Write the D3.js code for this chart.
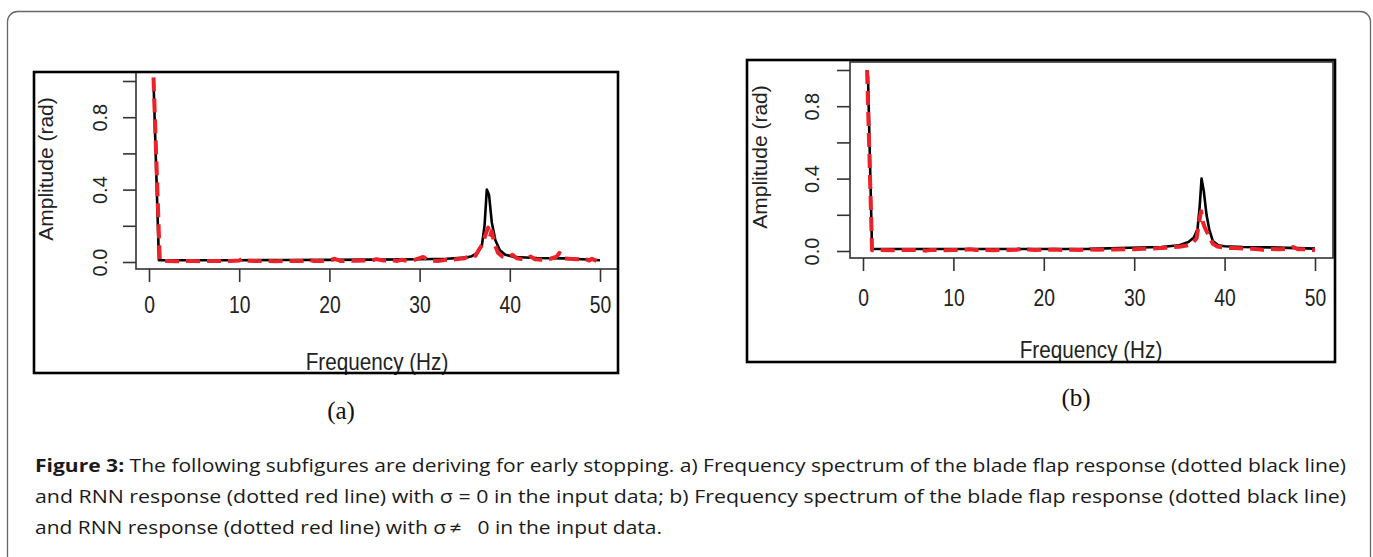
<!DOCTYPE html>
<html><head><meta charset="utf-8">
<script src="https://cdn.jsdelivr.net/npm/d3@7"></script>
<style>
html,body{margin:0;padding:0;background:#fff;}
svg{display:block;}
</style></head>
<body>
<svg id="c" width="1373" height="557"></svg>
<script>
// ---------- data ----------
const xTicks = [0, 10, 20, 30, 40, 50];
const yTicks = [0, 0.2, 0.4, 0.6, 0.8, 1.0];
const yTickLabels = ["0.0", "", "0.4", "", "0.8", ""];
const xTitle = "Frequency (Hz)";
const yTitle = "Amplitude (rad)";
const panelLabels = ["(a)", "(b)"];

// panel (a): blade flap response (black) and RNN response (red), sigma = 0
const flapA = [[0.5,1.0],[1.1,0.01],[5,0.01],[10,0.01],[15,0.011],[20,0.012],[25,0.013],[30,0.015],[33,0.018],[35,0.024],[35.8,0.032],[36.4,0.05],[36.9,0.09],[37.2,0.2],[37.45,0.4],[37.7,0.37],[38.0,0.22],[38.4,0.12],[38.9,0.065],[39.5,0.04],[40.5,0.028],[43,0.022],[46,0.02],[48,0.015],[50,0.01]];
const rnnA = [[0.5,1.02],[1.2,0.005],[2,0.005],[3,0.004],[4,0.006],[5,0.005],[6,0.004],[7,0.006],[8,0.005],[9,0.006],[10,0.008],[10.4,0.02],[10.8,0.007],[12,0.005],[13,0.006],[14,0.004],[15,0.006],[16,0.005],[17,0.006],[17.6,0.015],[18.2,0.006],[19,0.005],[20,0.008],[20.6,0.018],[21.2,0.006],[22,0.006],[23,0.007],[24,0.008],[24.5,0.005],[25.2,0.016],[26,0.008],[27,0.01],[27.5,0.006],[28,0.012],[28.6,0.007],[29.3,0.01],[30.4,0.028],[31,0.008],[32,0.006],[33,0.012],[34,0.015],[35,0.02],[35.7,0.04],[36.2,0.035],[36.6,0.07],[37.0,0.1],[37.3,0.15],[37.6,0.19],[37.8,0.14],[38.0,0.17],[38.3,0.1],[38.7,0.05],[39.2,0.03],[39.7,0.025],[40.3,0.04],[40.8,0.02],[41.5,0.015],[42.3,0.03],[42.8,0.015],[43.5,0.012],[44.5,0.018],[45.2,0.03],[45.5,0.05],[45.9,0.02],[46.5,0.018],[47.5,0.015],[48.2,0.02],[48.8,0.008],[49.1,0.018],[49.6,0.006]];

// panel (b): sigma != 0
const flapB = [[0.55,0.97],[1.0,0.011],[5,0.011],[10,0.011],[15,0.011],[20,0.011],[25,0.012],[29.5,0.018],[33,0.022],[35,0.032],[36,0.05],[36.6,0.075],[37.0,0.12],[37.25,0.25],[37.45,0.40],[37.7,0.33],[38.0,0.2],[38.3,0.12],[38.7,0.055],[39.3,0.032],[40,0.026],[42,0.022],[45,0.02],[48,0.016],[50,0.013]];
const rnnB = [[0.45,1.0],[1.0,0.004],[2,0.005],[3,0.004],[4,0.005],[5,0.005],[6,0.006],[7,0.002],[7.5,0.005],[8,0.006],[9,0.004],[10,0.005],[11,0.006],[11.8,0.01],[12.5,0.005],[13.5,0.006],[14.5,0.004],[15,0.006],[16,0.005],[17,0.007],[17.7,0.014],[18.3,0.008],[19,0.006],[20,0.007],[21,0.008],[22,0.006],[23,0.007],[24,0.006],[25,0.008],[26,0.007],[27,0.009],[28,0.008],[29,0.01],[30,0.01],[31,0.012],[32,0.013],[33,0.016],[34,0.02],[35,0.024],[35.8,0.03],[36.4,0.04],[36.9,0.07],[37.15,0.15],[37.4,0.22],[37.6,0.16],[37.8,0.13],[38.0,0.11],[38.3,0.08],[38.7,0.04],[39.2,0.025],[40,0.018],[41,0.016],[42,0.014],[43,0.012],[44,0.008],[44.5,0.005],[45,0.011],[46,0.01],[47,0.012],[47.6,0.022],[48.1,0.01],[49,0.009],[50,0.004]];

const captionLines = [
  ["Figure 3:", " The following subfigures are deriving for early stopping. a) Frequency spectrum of the blade flap response (dotted black line)"],
  ["", "and RNN response (dotted red line) with \u03c3 = 0 in the input data; b) Frequency spectrum of the blade flap response (dotted black line)"],
  ["", "and RNN response (dotted red line) with \u03c3\u2009\u2260\u2002 0 in the input data."]
];

// ---------- layout ----------
const svg = d3.select("#c");
svg.append("rect").attr("width",1373).attr("height",557).attr("fill","#fff");
svg.append("rect").attr("x",7.5).attr("y",11.5).attr("width",1363).attr("height",580)
  .attr("rx",10).attr("fill","none").attr("stroke","#666").attr("stroke-width",1.3);

const panels = [
  {frame:[34,72,618,373], box:[136,72,618,269], xr:[149,600], yr:[262,81], tickLen:13,
   xLabY:36, yLabX:36, xTitle:[377,362], yTitle:[46,169], label:[341,410], flap:flapA, rnn:rnnA, name:panelLabels[0]},
  {frame:[747,60,1335,362], box:[850,62,1333,258], xr:[863,1315], yr:[251,70], tickLen:13,
   xLabY:40, yLabX:38, xTitle:[1091,350], yTitle:[760,157], label:[1076,397], flap:flapB, rnn:rnnB, name:panelLabels[1]}
];

const font = "Liberation Sans, Arial, Helvetica, sans-serif";

panels.forEach(p => {
  const g = svg.append("g");
  const x = d3.scaleLinear().domain([0,50]).range(p.xr);
  const y = d3.scaleLinear().domain([0,1]).range(p.yr);
  const [bx0,by0,bx1,by1] = p.box;

  // plot box
  g.append("rect").attr("x",bx0).attr("y",by0).attr("width",bx1-bx0).attr("height",by1-by0)
    .attr("fill","none").attr("stroke","#333").attr("stroke-width",1.6);

  // x axis
  const xa = g.append("g").attr("transform",`translate(0,${by1})`)
    .call(d3.axisBottom(x).tickValues(xTicks).tickSize(p.tickLen).tickFormat(d3.format("d")));
  xa.select(".domain").remove();
  xa.selectAll(".tick line").attr("stroke","#333").attr("stroke-width",1.6);
  xa.selectAll(".tick text").attr("font-family",font).attr("font-size",23).attr("fill","#222")
    .attr("y",p.xLabY).attr("dy","0.36em").attr("transform","scale(0.84,1)");

  // y axis
  const ya = g.append("g").attr("transform",`translate(${bx0},0)`)
    .call(d3.axisLeft(y).tickValues(yTicks).tickSize(p.tickLen).tickFormat((d,i)=>yTickLabels[i]));
  ya.select(".domain").remove();
  ya.selectAll(".tick line").attr("stroke","#333").attr("stroke-width",1.6);
  ya.selectAll(".tick text").attr("font-family",font).attr("font-size",20).attr("fill","#222")
    .attr("transform","rotate(-90)").attr("text-anchor","middle")
    .attr("x",0).attr("y",-p.yLabX).attr("dy","0.35em");

  // titles
  g.append("text").attr("transform",`translate(${p.xTitle[0]},${p.xTitle[1]}) scale(0.9,1)`).attr("dy","0.36em")
    .attr("text-anchor","middle").attr("font-family",font).attr("font-size",23).attr("fill","#222").text(xTitle);
  g.append("text").attr("transform",`translate(${p.yTitle[0]},${p.yTitle[1]}) rotate(-90)`).attr("dy","0.35em")
    .attr("text-anchor","middle").attr("font-family",font).attr("font-size",21).attr("fill","#222").text(yTitle);

  // lines
  const line = d3.line().x(d=>x(d[0])).y(d=>y(d[1]));
  g.append("path").datum(p.flap).attr("d",line).attr("fill","none")
    .attr("stroke","#000").attr("stroke-width",2.6).attr("stroke-linejoin","round");
  g.append("path").datum(p.rnn).attr("d",line).attr("fill","none")
    .attr("stroke","#ec2229").attr("stroke-width",4).attr("stroke-dasharray","14,7").attr("stroke-linejoin","round");

  // frame
  const [fx0,fy0,fx1,fy1] = p.frame;
  g.append("rect").attr("x",fx0).attr("y",fy0).attr("width",fx1-fx0).attr("height",fy1-fy0)
    .attr("fill","none").attr("stroke","#000").attr("stroke-width",2.6);

  // panel label
  svg.append("text").attr("x",p.label[0]).attr("y",p.label[1]).attr("dy","0.35em").attr("text-anchor","middle")
    .attr("font-family","Liberation Serif, Times New Roman, serif").attr("font-size",25).attr("fill","#111").text(p.name);
});

// ---------- caption ----------
const capY = [472, 503, 534];
const capW = [1311, 1311, 627];
captionLines.forEach((ln,i) => {
  const t = svg.append("text").attr("x",35).attr("y",capY[i])
    .attr("font-family","Open Sans, Noto Sans, sans-serif").attr("font-size",17.5).attr("fill","#1a1a1a")
    .attr("textLength",capW[i]).attr("lengthAdjust","spacingAndGlyphs");
  if (ln[0]) t.append("tspan").attr("font-weight","bold").text(ln[0]);
  t.append("tspan").text(ln[1]);
});
</script>
</body></html>
